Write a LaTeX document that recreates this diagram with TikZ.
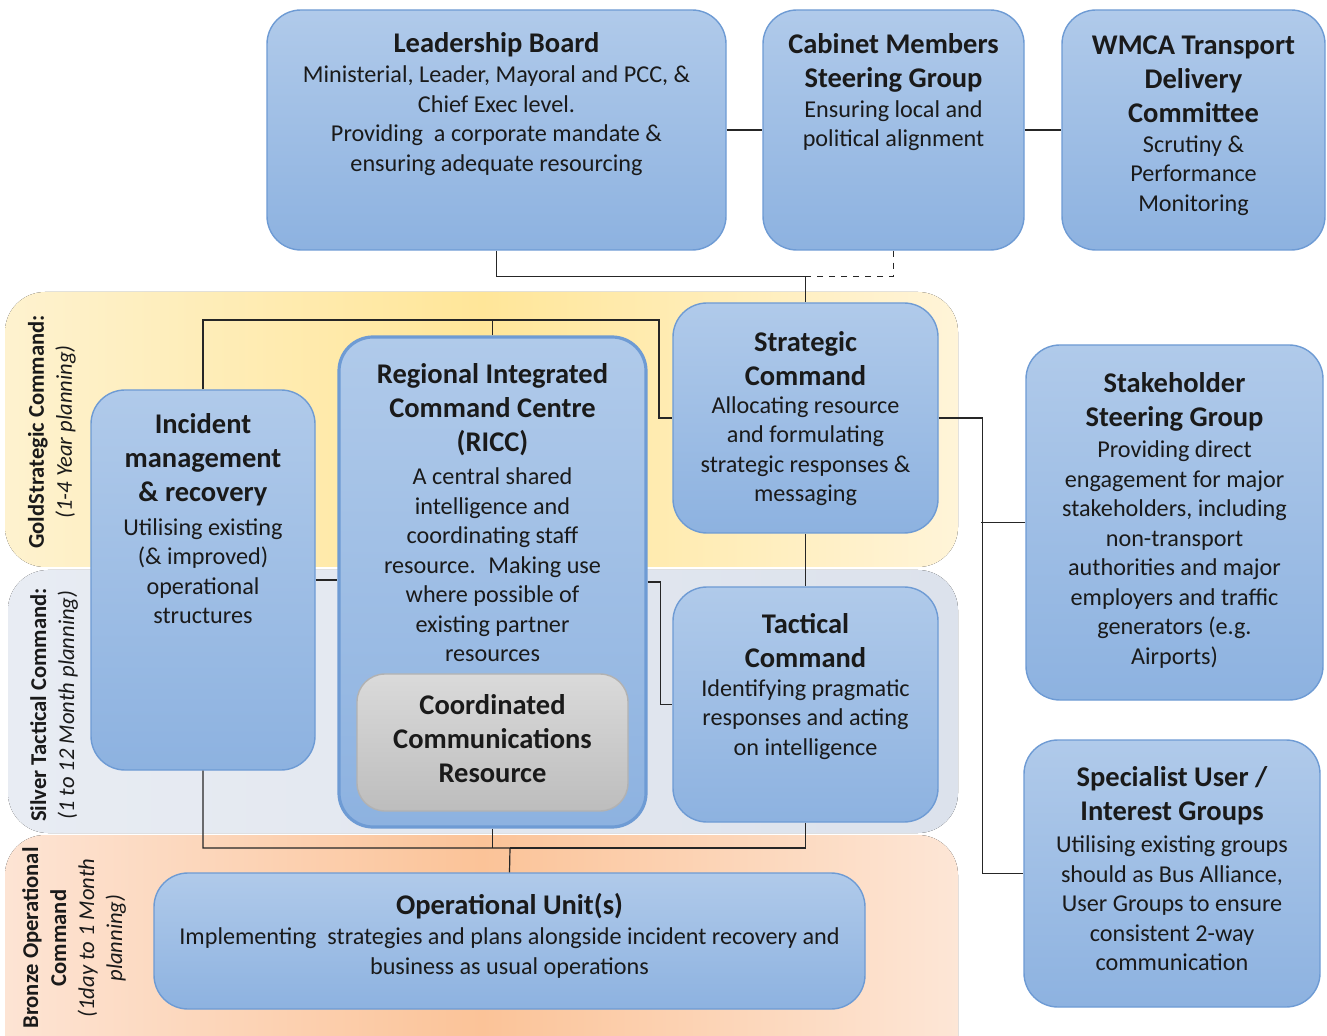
\documentclass[tikz,border=0pt]{standalone}
\usepackage{fontspec}
\setmainfont{Carlito}
\usetikzlibrary{fit}

\definecolor{boxtop}{HTML}{B0CAEA}
\definecolor{boxbot}{HTML}{8DB2E0}
\definecolor{boxedge}{HTML}{6E9BD4}
\definecolor{greytop}{HTML}{DADADA}
\definecolor{greybot}{HTML}{BDBDBD}
\definecolor{goldL}{HTML}{FEF2CF}
\definecolor{goldM}{HTML}{FFE699}
\definecolor{goldR}{HTML}{FFF4D8}
\definecolor{silverL}{HTML}{E8ECF3}
\definecolor{silverR}{HTML}{DCE2EC}
\definecolor{bronzeL}{HTML}{FDE4D4}
\definecolor{bronzeM}{HTML}{FBC398}
\definecolor{bronzeR}{HTML}{FDE6D6}
\definecolor{ink}{HTML}{1A1A1A}

\tikzset{
  panel/.style={draw=boxedge, line width=0.7pt, rounded corners=17pt,
    top color=boxtop, bottom color=boxbot, inner sep=0pt},
  greypanel/.style={panel, draw=black!30, top color=greytop, bottom color=greybot, rounded corners=14pt},
  band/.style={rounded corners=20pt},
  head/.style={font=\fontsize{14.25}{17}\selectfont\bfseries, align=center, text=ink},
  body/.style={font=\fontsize{12.1}{14.75}\selectfont, align=center, text=ink},
  tier/.style={rotate=90, align=center, text=ink, font=\fontsize{11.3}{14}\selectfont},
  link/.style={draw=black!85, line width=0.6pt},
}

\begin{document}
\begin{tikzpicture}[x=0.5pt, y=-0.5pt]
\useasboundingbox (0,0) rectangle (1327,1036);
\clip (0,0) rectangle (1327,1036);
\fill[white] (0,0) rectangle (1327,1036);

% command tiers
\fill[band, left color=goldL, right color=goldR, middle color=goldM] (5,292) rectangle (958,567);
\fill[band, left color=silverL, right color=silverR] (8,570) rectangle (958,833);
\fill[band, left color=bronzeL, right color=bronzeR, middle color=bronzeM] (5,835) rectangle (958,1080);

\node[tier] (gold) at (52,432) {\textbf{GoldStrategic Command:}\\\textit{(1-4 Year planning)}};
\node[tier] (silver) at (54,705) {\textbf{Silver Tactical Command:}\\\textit{(1 to 12 Month planning)}};
\node[tier] (bronze) at (74,938) {\textbf{Bronze Operational}\\\textbf{Command}\\\textit{(1day to 1 Month}\\\textit{planning)}};

% boxes
\foreach \name/\a/\b in {lead/{267,10}/{726,250}, cab/{763,10}/{1024,250},
    wmca/{1062,10}/{1325,250}, strat/{673,303}/{938,533}, inc/{91,390}/{315,770},
    tact/{673,587}/{938,822}, stake/{1026,345}/{1323,700},
    spec/{1024,740}/{1320,1007}, ops/{154,873}/{865,1009}}
  \node[panel, fit={(\a) (\b)}] (\name) {};
\node[panel, line width=1.6pt, fit={(339,337) (646,827)}] (ricc) {};
\node[greypanel, fit={(357,674) (628,811)}] (comms) {};

% texts
\node[head] (lead-t) at (496.5,45) {Leadership Board};
\node[body] (lead-d) at (496.5,120.5) {Ministerial, Leader, Mayoral and PCC, \&\\Chief Exec level.\\Providing~ a corporate mandate \&\\ensuring adequate resourcing};
\node[head] (cab-t) at (893.5,62.5) {Cabinet Members\\Steering Group};
\node[body] (cab-d) at (893.5,125.5) {Ensuring local and\\political alignment};
\node[head] (wmca-t) at (1193.5,79) {WMCA Transport\\Delivery\\Committee};
\node[body] (wmca-d) at (1193.5,175.5) {Scrutiny \&\\Performance\\Monitoring};
\node[head] (strat-t) at (805.5,358.5) {Strategic\\Command};
\node[body] (strat-d) at (805.5,451) {Allocating resource\\and formulating\\strategic responses \&\\messaging};
\node[head] (ricc-t) at (492.5,409.5) {Regional Integrated\\Command Centre\\(RICC)};
\node[body] (ricc-d) at (492.5,565) {A central shared\\intelligence and\\coordinating staff\\resource.~ Making use\\where possible of\\existing partner\\resources};
\node[head] (comms-t) at (492.5,739) {Coordinated\\Communications\\Resource};
\node[head] (inc-t) at (203,460) {Incident\\management\\\& recovery};
\node[body] (inc-d) at (203,571) {Utilising existing\\(\& improved)\\operational\\structures};
\node[head] (tact-t) at (805.5,641) {Tactical\\Command};
\node[body] (tact-d) at (805.5,719.5) {Identifying pragmatic\\responses and acting\\on intelligence};
\node[head] (stake-t) at (1174.5,402) {Stakeholder\\Steering Group};
\node[body] (stake-d) at (1174.5,554.5) {Providing direct\\engagement for major\\stakeholders, including\\non-transport\\authorities and major\\employers and traffic\\generators (e.g.\\Airports)};
\node[head] (spec-t) at (1172,795.5) {Specialist User /\\Interest Groups};
\node[body] (spec-d) at (1172,903.5) {Utilising existing groups\\should as Bus Alliance,\\User Groups to ensure\\consistent 2-way\\communication};
\node[head] (ops-t) at (509.5,906) {Operational Unit(s)};
\node[body] (ops-d) at (509.5,953) {Implementing~ strategies and plans alongside incident recovery and\\business as usual operations};

% connectors
\path (strat.north) ++(0,-26) coordinate (j1);
\coordinate (j2) at (659,320);
\coordinate (j3) at (510,848);
\draw[link] (lead.east) -- (cab.west);
\draw[link] (cab.east) -- (wmca.west);
\draw[link] (lead.south) |- (j1) -- (strat.north);
\draw[link, dashed] (cab.south) |- (j1);
\draw[link] (inc.north) |- (j2) |- (strat.west);
\draw[link] (ricc.north) -- (ricc.north |- j2);
\draw[link] (strat.south) -- (tact.north);
\draw[link] (inc.east) -- (inc.east -| ricc.west);
\draw[link] (ricc.east) -- ++(13,0) |- (tact.west);
\draw[link] (inc.south) |- (j3) -- (ops.north);
\draw[link] (tact.south) |- (j3);
\draw[link] (ricc.south) -- (ricc.south |- j3);
\draw[link] (strat.east) -- ++(44,0) |- (spec.west);
\draw[link] (stake.west) -- ++(-44,0);
\end{tikzpicture}
\end{document}
